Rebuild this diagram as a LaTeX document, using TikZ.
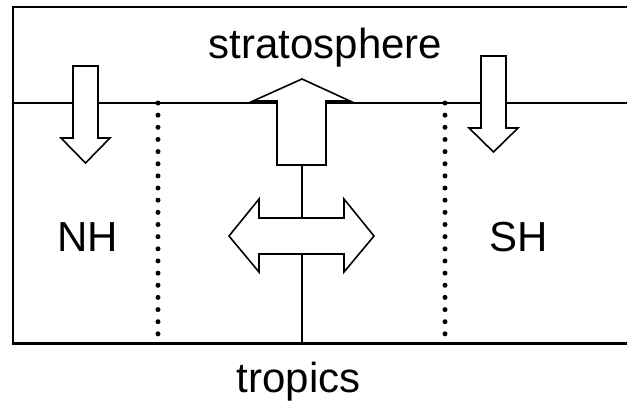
\documentclass[tikz,border=0pt]{standalone}
\usepackage{fontspec}
\setmainfont{Liberation Sans}
\usetikzlibrary{positioning}

\begin{document}
\begin{tikzpicture}[x=1pt, y=-1pt,
  zonetext/.style={font=\fontsize{42}{50}\selectfont, inner sep=0pt, anchor=base},
  frame/.style={black, line width=2.2pt},
  level/.style={black, line width=1.3pt},
  blockarrow/.style={draw=black, fill=white, line width=1.6pt, line join=miter},
  dots/.style={black, line width=5pt, line cap=round, dash pattern=on 0pt off 12.15pt},
  stem/.style={black, line width=1.5pt}
]
\useasboundingbox (0,0) rectangle (627,402);

% ---- Frame and tropopause ----
\draw[frame] (627,7) -- (13,7) -- (13,343.5) -- (627,343.5);
\draw[level] (13,103) -- (627,103);

% ---- Dotted boundaries ----
\coordinate (nhtop) at (158,103);
\coordinate (nhbot) at (158,334.5);
\coordinate (shtop) at (445,103);
\coordinate (shbot) at (445,334.5);
\draw[dots] (nhtop) -- (nhbot);
\draw[dots] (shtop) -- (shbot);

% ---- Central stem ----
\coordinate (stemtop) at (302,165);
\coordinate (stembot) at (302,343.5);
\draw[stem] (stemtop) -- (stembot);

% ---- Block arrows ----
\draw[blockarrow] (73,66) -- (98,66) -- (98,138) -- (110,138) -- (85.5,163)
  -- (61,138) -- (73,138) -- cycle;
\draw[blockarrow] (481,56) -- (506,56) -- (506,128) -- (518,128) -- (493.5,152)
  -- (469,128) -- (481,128) -- cycle;
\draw[blockarrow] (277,165) -- (277,101) -- (253,101) -- (302,79) -- (350,101)
  -- (326,101) -- (326,165) -- cycle;
\draw[blockarrow] (229,236) -- (259,199) -- (259,218) -- (344,218) -- (344,199)
  -- (374,236) -- (344,272) -- (344,254) -- (259,254) -- (259,272) -- cycle;

% ---- Labels ----
\node[zonetext] (strat) at (325.5,58) {stratosphere};
\node[zonetext] (nh) at (87.5,251) {NH};
\node[zonetext] (sh) at (518.5,251) {SH};
\node[zonetext] (trop) at (298.5,392) {tropics};

\end{tikzpicture}
\end{document}
